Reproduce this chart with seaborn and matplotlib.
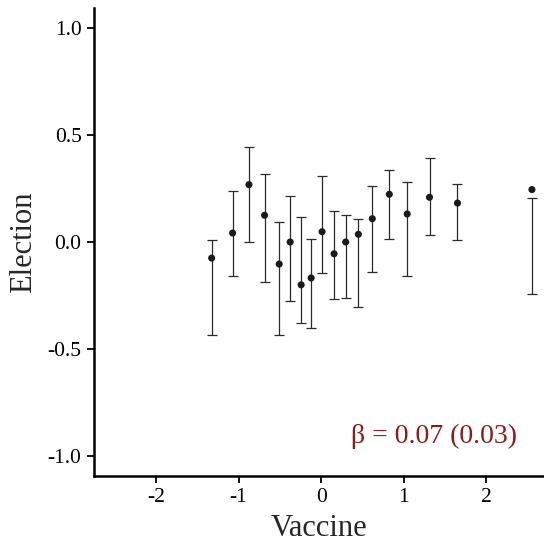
import matplotlib
matplotlib.use("Agg")
import matplotlib.pyplot as plt
import seaborn as sns
import pandas as pd

# binned means of the outcome by vaccine score, with interval bounds
vaccine = [-1.326, -1.072, -0.874, -0.685, -0.508, -0.375, -0.242, -0.121, 0.012,
           0.157, 0.298, 0.451, 0.620, 0.826, 1.043, 1.313, 1.652, 2.554]
election = [-0.075, 0.042, 0.268, 0.125, -0.103, 0.000, -0.200, -0.168, 0.048,
            -0.055, 0.000, 0.036, 0.109, 0.223, 0.131, 0.209, 0.182, 0.245]
ci_low = [-0.433, -0.157, 0.000, -0.187, -0.436, -0.274, -0.377, -0.400, -0.143,
          -0.268, -0.262, -0.302, -0.142, 0.016, -0.159, 0.033, 0.011, -0.241]
ci_high = [0.009, 0.240, 0.445, 0.319, 0.092, 0.216, 0.118, 0.016, 0.308,
           0.146, 0.128, 0.109, 0.263, 0.336, 0.280, 0.393, 0.270, 0.204]
x_ticks = [-2, -1, 0, 1, 2]
y_ticks = [-1.0, -0.5, 0.0, 0.5, 1.0]
y_ticklabels = ["-1.0", "-0.5", "0.0", "0.5", "1.0"]
x_ticklabels = ["-2", "-1", "0", "1", "2"]
annotation = "β = 0.07 (0.03)"

df = pd.DataFrame({"Vaccine": vaccine, "Election": election,
                   "lo": ci_low, "hi": ci_high})

sns.set_style("ticks")
plt.rcParams["font.family"] = ["Liberation Serif", "DejaVu Serif"]

fig = plt.figure(figsize=(5.44, 5.43), dpi=100)
ax = fig.add_axes([0.173, 0.1234, 0.827, 0.8618])

# vertical interval bars with caps
mid = (df["lo"] + df["hi"]) / 2
half = (df["hi"] - df["lo"]) / 2
ax.errorbar(df["Vaccine"], mid, yerr=half, fmt="none", ecolor="#2a2a2a",
            elinewidth=0.9, capsize=3.4, capthick=0.9, zorder=2)

sns.scatterplot(data=df, x="Vaccine", y="Election", ax=ax, color="#1a1a1a",
                s=26, edgecolor="none", zorder=3)

ax.set_xlim(-2.75, 2.7)
ax.set_ylim(-1.093, 1.093)
ax.set_xticks(x_ticks)
ax.set_xticklabels(x_ticklabels)
ax.set_yticks(y_ticks)
ax.set_yticklabels(y_ticklabels)
ax.tick_params(axis="both", labelsize=15.5, length=5, width=1.3, colors="black",
               direction="out", pad=4)
ax.set_xlabel("Vaccine", fontsize=22, labelpad=5)
ax.set_ylabel("Election", fontsize=22, labelpad=7)

for side in ["top", "right"]:
    ax.spines[side].set_visible(False)
for side in ["left", "bottom"]:
    ax.spines[side].set_linewidth(1.8)
    ax.spines[side].set_color("black")

ax.text(2.37, -0.91, annotation, ha="right", va="center", fontsize=20,
        color="#8b1a1a")

fig.savefig("out.png", dpi=100)
